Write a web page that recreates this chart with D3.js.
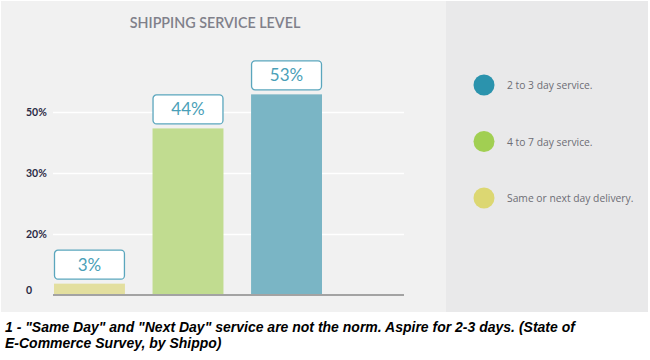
<!DOCTYPE html>
<html>
<head>
<meta charset="utf-8">
<script src="https://cdn.jsdelivr.net/npm/d3@7"></script>
<style>
  html, body { margin: 0; padding: 0; background: #ffffff; }
  svg { display: block; }
</style>
</head>
<body>
<script>
// ---- data ----
const categories = ["Same or next day delivery.", "4 to 7 day service.", "2 to 3 day service."];
const values = [3, 44, 53];
const barColors = ["#e3df9f", "#c1dc90", "#7ab5c5"];
const legendOrder = ["2 to 3 day service.", "4 to 7 day service.", "Same or next day delivery."];
const legendColors = ["#2b93ad", "#a1cf52", "#dcd772"];
const tickLabels = ["0", "20%", "30%", "50%"];
const title = "SHIPPING SERVICE LEVEL";
const footnoteLines = [
  "1 - \"Same Day\" and \"Next Day\" service are not the norm. Aspire for 2-3 days. (State of",
  "E-Commerce Survey, by Shippo)"
];

// ---- layout ----
const W = 650, H = 360;
const svg = d3.select("body").append("svg").attr("width", W).attr("height", H);

// panels
svg.append("rect").attr("x", 1).attr("y", 1).attr("width", 445).attr("height", 311).attr("fill", "#f1f1f1");
svg.append("rect").attr("x", 446).attr("y", 1).attr("width", 202).attr("height", 311).attr("fill", "#e9e9ea");

const plotLeft = 53, plotRight = 404, baseY = 295;

// title
svg.append("text").attr("x", 215).attr("y", 28).attr("text-anchor", "middle")
  .attr("font-family", "Lato, 'Open Sans', sans-serif").attr("font-size", 14.3).attr("font-weight", 600)
  .attr("fill", "#80808a").text(title);

// axis (evenly spaced labelled gridlines)
const yTick = d3.scalePoint().domain(tickLabels).range([baseY, 112]);
const yAxis = d3.axisLeft(yTick).tickSize(-(plotRight - plotLeft)).tickPadding(6);
const gAxis = svg.append("g").attr("transform", `translate(${plotLeft},0)`).call(yAxis);
gAxis.select(".domain").remove();
gAxis.selectAll(".tick line").attr("stroke", "#ffffff").attr("stroke-width", 1.5);
gAxis.selectAll(".tick text")
  .attr("font-family", "Lato, 'Open Sans', sans-serif").attr("font-size", 10.5).attr("font-weight", 700)
  .attr("fill", "#2b2b45").attr("text-anchor", "start").attr("x", -27)
  .attr("dy", (d, i) => i === 0 ? "-0.1em" : "0.32em");
gAxis.selectAll(".tick").filter(d => d === "0").select("line").remove();

// bars
const x = d3.scaleBand().domain(categories).range([54, 322]).paddingInner(0.28).paddingOuter(0);
const y = d3.scaleLinear().domain([0, 56]).range([baseY, baseY - 212]);

const bars = svg.append("g");
bars.selectAll("rect").data(values).join("rect")
  .attr("x", (d, i) => x(categories[i]))
  .attr("y", d => y(d))
  .attr("width", x.bandwidth())
  .attr("height", d => baseY - y(d))
  .attr("fill", (d, i) => barColors[i]);

// baseline
svg.append("line").attr("x1", plotLeft).attr("x2", plotRight).attr("y1", baseY).attr("y2", baseY)
  .attr("stroke", "#a3a3a3").attr("stroke-width", 2);

// value boxes
const boxH = 29;
const boxes = svg.append("g").selectAll("g").data(values).join("g")
  .attr("transform", (d, i) => `translate(${x(categories[i])},${y(d) - 5 - boxH})`);
boxes.append("rect").attr("x", 0.5).attr("y", 0.5).attr("width", x.bandwidth() - 1).attr("height", boxH)
  .attr("rx", 3.5).attr("fill", "#ffffff").attr("stroke", "#5aa6bd").attr("stroke-width", 1.3);
boxes.append("text").attr("x", x.bandwidth() / 2).attr("y", boxH / 2 + 6.5).attr("text-anchor", "middle")
  .attr("font-family", "Lato, 'Open Sans', sans-serif").attr("font-size", 17).attr("font-weight", 400)
  .attr("fill", "#4a9fb8").text(d => d + "%");

// legend
const ly = d3.scalePoint().domain(legendOrder).range([85, 198]);
const leg = svg.append("g").selectAll("g").data(legendOrder).join("g")
  .attr("transform", d => `translate(484,${ly(d)})`);
leg.append("circle").attr("r", 10.5).attr("fill", (d, i) => legendColors[i]);
leg.append("text").attr("x", 23).attr("y", 4).attr("font-family", "'Open Sans', Lato, sans-serif")
  .attr("font-size", 10.3).attr("fill", "#6d6d75").text(d => d);

// footnote
svg.append("g").selectAll("text").data(footnoteLines).join("text")
  .attr("x", 5).attr("y", (d, i) => 332 + i * 16)
  .attr("font-family", "'Liberation Sans', Arial, sans-serif").attr("font-size", 14)
  .attr("font-weight", 700).attr("font-style", "italic").attr("fill", "#000").text(d => d);
</script>
</body>
</html>
